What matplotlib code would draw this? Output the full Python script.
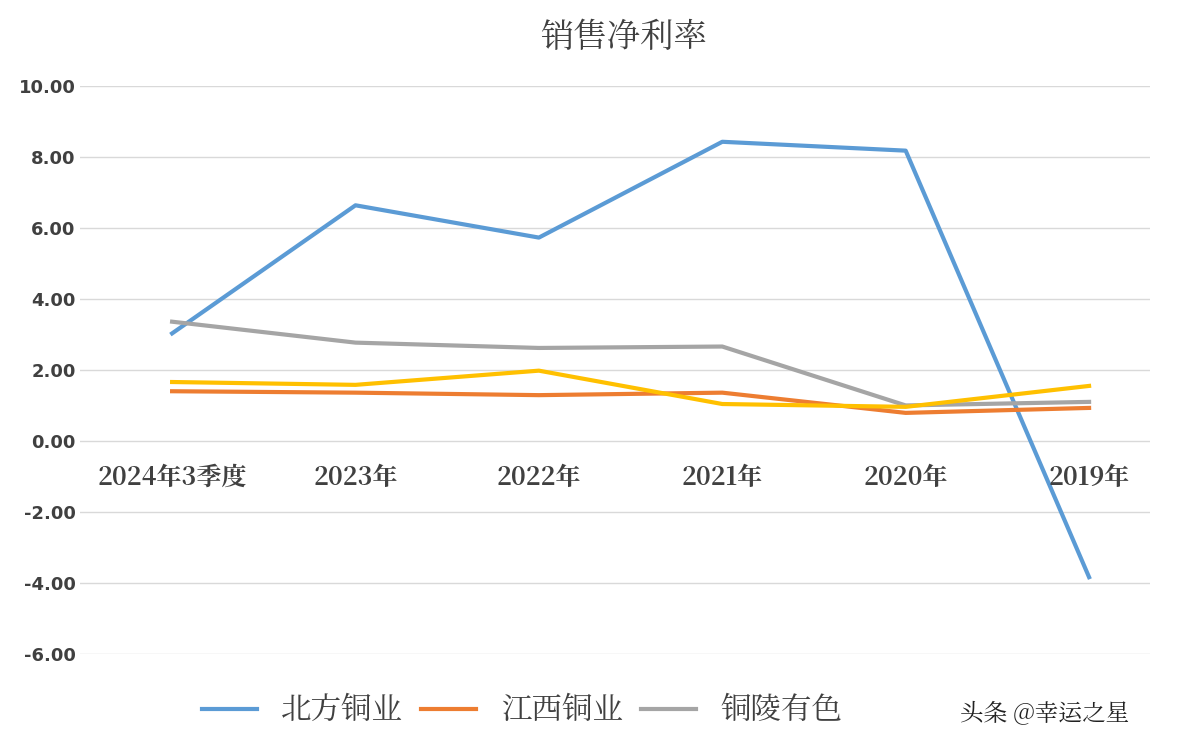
import matplotlib.pyplot as plt
from matplotlib import font_manager as fm
from matplotlib.lines import Line2D

# find an installed CJK font by file, since the name lookup failed
cjk = None
for f in fm.findSystemFonts():
    if "CJK" in f or "cjk" in f.lower():
        fm.fontManager.addfont(f)
        cjk = fm.FontProperties(fname=f).get_name()
        if "SC" in cjk or "JP" in cjk:
            break
plt.rcParams["font.family"] = [cjk or "Noto Sans CJK SC", "DejaVu Sans"]

categories = ["2024年3季度", "2023年", "2022年", "2021年", "2020年", "2019年"]
beifang = [3.03, 6.64, 5.73, 8.43, 8.18, -3.84]
jiangxi = [1.40, 1.36, 1.29, 1.36, 0.79, 0.93]
tongling = [3.36, 2.77, 2.62, 2.66, 1.00, 1.10]
fourth = [1.66, 1.58, 1.98, 1.04, 0.96, 1.55]

fig = plt.figure(figsize=(12, 7.55), dpi=100)
ax = fig.add_axes([0.067, 0.134, 0.891, 0.752])
x = range(len(categories))
ax.plot(x, beifang, color="#5b9bd5", lw=3)
ax.plot(x, jiangxi, color="#ed7d31", lw=3)
ax.plot(x, tongling, color="#a5a5a5", lw=3)
ax.plot(x, fourth, color="#ffc000", lw=3)

ax.set_ylim(-6, 10)
ax.set_xlim(-0.5, 5.33)
ax.set_yticks(range(-6, 11, 2))
ax.set_yticklabels([f"{v:.2f}" for v in range(-6, 11, 2)], fontsize=13,
                   fontweight="bold", color="#404040", family="DejaVu Sans")
ax.grid(axis="y", color="#d9d9d9", lw=1)
ax.tick_params(length=0)
ax.set_xticks([])
for s in ax.spines.values():
    s.set_visible(False)
for i, c in enumerate(categories):
    ax.text(i, -1.05, c, ha="center", va="center", fontsize=18,
            fontweight="bold", color="#404040")

fig.text(0.52, 0.95, "销售净利率", ha="center", va="center", fontsize=24, color="#404040")

handles = [Line2D([], [], color="#5b9bd5", lw=3),
           Line2D([], [], color="#ed7d31", lw=3),
           Line2D([], [], color="#a5a5a5", lw=3)]
fig.legend(handles, ["北方铜业", "江西铜业", "铜陵有色"], loc="center left",
           bbox_to_anchor=(0.145, 0.058), ncol=3, frameon=False, fontsize=22,
           handlelength=1.8, columnspacing=0.6, labelcolor="#404040")
fig.text(0.8, 0.045, "头条 @幸运之星", fontsize=17, color="#222222")

fig.savefig("out.png")
